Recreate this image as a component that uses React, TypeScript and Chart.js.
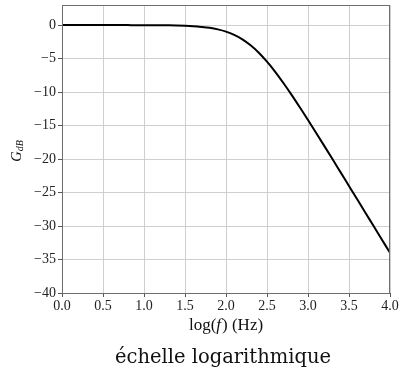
import React, { useEffect, useRef } from "react";
import { Chart, registerables } from "chart.js";

Chart.register(...registerables);

// log(f) values (Hz, log10)
const logF = [
  0.0, 0.1, 0.2, 0.3, 0.4, 0.5, 0.6, 0.7, 0.8, 0.9,
  1.0, 1.1, 1.2, 1.3, 1.4, 1.5, 1.6, 1.7, 1.8, 1.9,
  2.0, 2.1, 2.2, 2.3, 2.4, 2.5, 2.6, 2.7, 2.8, 2.9,
  3.0, 3.1, 3.2, 3.3, 3.4, 3.5, 3.6, 3.7, 3.8, 3.9, 4.0,
];
// gain in dB
const gainDb = [
  0.0, 0.0, 0.0, 0.0, 0.0, 0.0, 0.0, 0.0, 0.0, -0.01,
  -0.01, -0.02, -0.03, -0.04, -0.07, -0.11, -0.17, -0.27, -0.41, -0.64,
  -0.97, -1.46, -2.12, -3.01, -4.12, -5.46, -6.97, -8.64, -10.41, -12.27,
  -14.17, -16.11, -18.07, -20.04, -22.03, -24.02, -26.01, -28.01, -30.0, -32.0, -34.0,
];
const xTickStep = 0.5;
const yTickStep = 5;
const xLabel = ["log(", "f", ") (Hz)"];
const yLabelMain = "G";
const yLabelSub = "dB";
const caption = "échelle logarithmique";

const SERIF = "'Liberation Serif', 'DejaVu Serif', serif";

const labelsPlugin = {
  id: "labelsPlugin",
  afterDraw(chart: any) {
    const { ctx, chartArea } = chart;
    const { left, right, top, bottom } = chartArea;
    ctx.save();
    // frame
    ctx.strokeStyle = "#6e6e6e";
    ctx.lineWidth = 1;
    ctx.strokeRect(Math.round(left) + 0.5, Math.round(top) + 0.5, Math.round(right - left) - 1, Math.round(bottom - top));
    // x label
    const cx = (left + right) / 2;
    ctx.fillStyle = "#111";
    ctx.textBaseline = "alphabetic";
    ctx.textAlign = "left";
    const fUp = "17px " + SERIF;
    const fIt = "italic 17px " + SERIF;
    ctx.font = fUp;
    const w0 = ctx.measureText(xLabel[0]).width;
    const w2 = ctx.measureText(xLabel[2]).width;
    ctx.font = fIt;
    const w1 = ctx.measureText(xLabel[1]).width + 1;
    let x = cx - (w0 + w1 + w2) / 2;
    const by = 330;
    ctx.font = fUp;
    ctx.fillText(xLabel[0], x, by);
    x += w0;
    ctx.font = fIt;
    ctx.fillText(xLabel[1], x, by);
    x += w1;
    ctx.font = fUp;
    ctx.fillText(xLabel[2], x, by);

    // y label
    ctx.save();
    ctx.translate(20.5, 151);
    ctx.rotate(-Math.PI / 2);
    const gF = "italic 14.5px " + SERIF;
    const sF = "italic 10px " + SERIF;
    ctx.font = gF;
    const gw = ctx.measureText(yLabelMain).width;
    ctx.font = sF;
    const sw = ctx.measureText(yLabelSub).width;
    const sx = -(gw + sw) / 2;
    ctx.font = gF;
    ctx.fillText(yLabelMain, sx, 0);
    ctx.font = sF;
    ctx.fillText(yLabelSub, sx + gw, 2.5);
    ctx.restore();

    // caption
    ctx.font = "19.5px 'DejaVu Serif', serif";
    ctx.textAlign = "center";
    ctx.fillStyle = "#111";
    ctx.fillText(caption, 223, 363);
    ctx.restore();
  },
};

export default function App() {
  const ref = useRef<HTMLCanvasElement | null>(null);
  useEffect(() => {
    document.body.style.margin = "0";
    const canvas = ref.current!;
    const points = logF.map((v, i) => ({ x: v, y: gainDb[i] }));
    const chart = new Chart(canvas, {
      type: "line",
      data: {
        datasets: [
          {
            data: points,
            borderColor: "#000",
            borderWidth: 2,
            pointRadius: 0,
            cubicInterpolationMode: "monotone",
            fill: false,
          },
        ],
      },
      options: {
        animation: false,
        responsive: false,
        devicePixelRatio: 1,
        layout: { padding: { top: 5, right: 11, left: 0, bottom: 0 } },
        plugins: { legend: { display: false }, tooltip: { enabled: false }, title: { display: false } },
        scales: {
          x: {
            type: "linear",
            min: 0,
            max: 4,
            afterFit: (s: any) => {
              s.height = 81;
              s.paddingLeft = 0;
              s.paddingRight = 0;
            },
            ticks: {
              stepSize: xTickStep,
              padding: 1,
              maxRotation: 0,
              autoSkip: false,
              color: "#222",
              font: { family: SERIF, size: 14 },
              callback: (v: any) => Number(v).toFixed(1),
            },
            grid: { color: "#cfcfcf", lineWidth: 1, tickLength: 4, tickColor: "#555" },
            border: { display: false },
          },
          y: {
            type: "linear",
            min: -40,
            max: 3,
            afterFit: (s: any) => {
              s.width = 62;
              s.paddingTop = 0;
              s.paddingBottom = 0;
            },
            ticks: {
              stepSize: yTickStep,
              includeBounds: false,
              padding: 2,
              color: "#222",
              font: { family: SERIF, size: 14 },
              callback: (v: any) => String(v).replace("-", "\u2212"),
            },
            grid: { color: "#cfcfcf", lineWidth: 1, tickLength: 4, tickColor: "#555" },
            border: { display: false },
          },
        },
      },
      plugins: [labelsPlugin],
    } as any);
    return () => chart.destroy();
  }, []);
  return (
    <div style={{ position: "fixed", left: 0, top: 0, width: 401, height: 374, background: "#fff" }}>
      <canvas ref={ref} width={401} height={374} style={{ width: 401, height: 374 }} />
    </div>
  );
}
